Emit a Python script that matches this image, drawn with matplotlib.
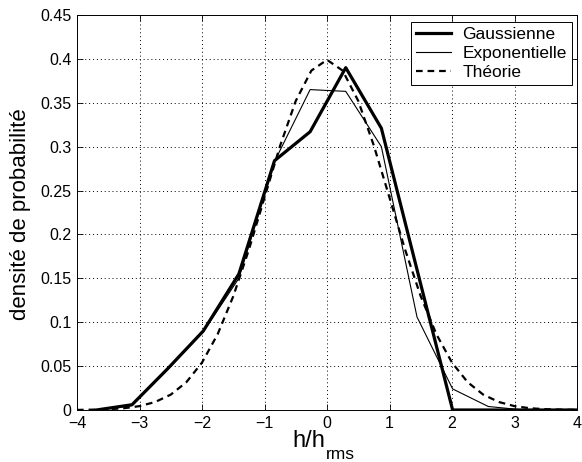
import matplotlib
matplotlib.use("Agg")
import matplotlib.pyplot as plt

plt.rcParams['font.family'] = ['Liberation Sans', 'DejaVu Sans']

# bin centres of the histograms
x_bins = [-3.69, -3.12, -2.55, -1.98, -1.41, -0.84, -0.27, 0.30, 0.87, 1.44, 2.01, 2.58, 3.15, 3.72, 4.0]
gauss = [0.0, 0.006, 0.047, 0.090, 0.155, 0.284, 0.317, 0.390, 0.321, 0.160, 0.0, 0.0, 0.0, 0.0, 0.0]
expo = [0.0, 0.005, 0.046, 0.089, 0.150, 0.283, 0.365, 0.363, 0.300, 0.106, 0.024, 0.004, 0.0, 0.0, 0.0]

# theoretical curve
x_theo = [-4.0, -3.75, -3.5, -3.25, -3.0, -2.75, -2.5, -2.25, -2.0, -1.75, -1.5, -1.25, -1.0,
          -0.75, -0.5, -0.25, 0.0, 0.25, 0.5, 0.75, 1.0, 1.25, 1.5, 1.75, 2.0, 2.25, 2.5,
          2.75, 3.0, 3.25, 3.5, 3.75, 4.0]
theo = [0.0001, 0.0004, 0.0009, 0.0020, 0.0044, 0.0091, 0.0175, 0.0317, 0.0540, 0.0863, 0.1295,
        0.1826, 0.2420, 0.3011, 0.3521, 0.3867, 0.3989, 0.3867, 0.3521, 0.3011, 0.2420, 0.1826,
        0.1295, 0.0863, 0.0540, 0.0317, 0.0175, 0.0091, 0.0044, 0.0020, 0.0009, 0.0004, 0.0001]

x_ticks = [-4, -3, -2, -1, 0, 1, 2, 3, 4]
y_ticks = [0, 0.05, 0.1, 0.15, 0.2, 0.25, 0.3, 0.35, 0.4, 0.45]
y_labels = ['0', '0.05', '0.1', '0.15', '0.2', '0.25', '0.3', '0.35', '0.4', '0.45']

W, H = 582, 462
fig = plt.figure(figsize=(W / 100, H / 100), dpi=100)
ax = fig.add_axes([77 / W, 52 / H, 500 / W, 395 / H])

ax.plot(x_bins, gauss, color='black', lw=2.3, label='Gaussienne', zorder=3)
ax.plot(x_bins, expo, color='black', lw=0.8, label='Exponentielle', zorder=4)
ax.plot(x_theo, theo, color='black', lw=1.6, ls=(0, (3, 2.2)), label='Théorie', zorder=2)

ax.set_xlim(-4, 4)
ax.set_ylim(0, 0.45)
ax.set_xticks(x_ticks)
ax.set_xticklabels([str(t).replace('-', '\u2212') for t in x_ticks])
ax.set_yticks(y_ticks)
ax.set_yticklabels(y_labels)
ax.tick_params(direction='in', length=4, width=0.6, top=True, right=True, labelsize=11.5, pad=4)
ax.grid(True, color='black', ls=(0, (1, 3)), lw=0.7)
for s in ax.spines.values():
    s.set_linewidth(0.7)

# x label: "h/h" with a low "rms" subscript, placed like the original
fig.text(325 / W, 1 - 447 / H, 'h/h', fontsize=17, ha='right', va='baseline')
fig.text(326 / W, 1 - 459 / H, 'rms', fontsize=12.5, ha='left', va='baseline')
fig.text(21 / W, 1 - 214 / H, 'densité de probabilité', fontsize=16, rotation=90,
         ha='center', va='center')

leg = ax.legend(loc='upper right', bbox_to_anchor=(0.99, 0.982), fontsize=12.5,
                fancybox=False, framealpha=1, edgecolor='black', handlelength=2.0,
                borderpad=0.3, labelspacing=0.2, handletextpad=0.65, borderaxespad=0)
leg.get_frame().set_linewidth(0.7)

fig.savefig('out.png', dpi=100)
